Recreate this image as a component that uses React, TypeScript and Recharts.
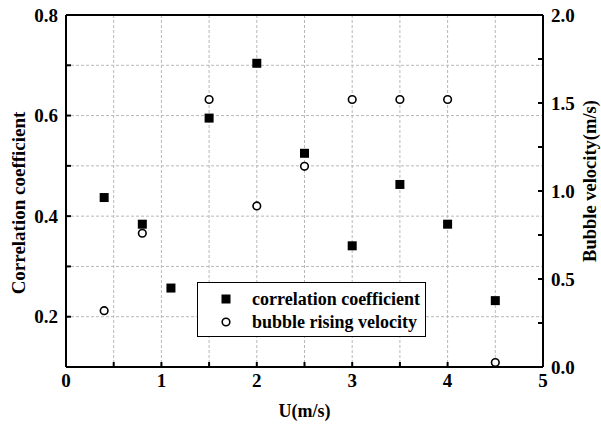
import React from 'react';
import { ScatterChart, Scatter, XAxis, YAxis, CartesianGrid, ReferenceLine, Legend } from 'recharts';

const uSquares = [0.4, 0.8, 1.1, 1.5, 2.0, 2.5, 3.0, 3.5, 4.0, 4.5];
const correlation = [0.437, 0.384, 0.257, 0.595, 0.704, 0.525, 0.341, 0.463, 0.384, 0.232];
const uCircles = [0.4, 0.8, 1.5, 2.0, 2.5, 3.0, 3.5, 4.0, 4.5];
const velocity = [0.32, 0.76, 1.52, 0.915, 1.14, 1.52, 1.52, 1.52, 0.025];

const xTicks = [0, 0.5, 1, 1.5, 2, 2.5, 3, 3.5, 4, 4.5, 5];
const xLabels = [0, 1, 2, 3, 4, 5];
const leftTicks = [0.2, 0.3, 0.4, 0.5, 0.6, 0.7, 0.8];
const leftLabels = [0.2, 0.4, 0.6, 0.8];
const rightTicks = [0, 0.25, 0.5, 0.75, 1, 1.25, 1.5, 1.75, 2];
const rightLabels = [0, 0.5, 1, 1.5, 2];

const seriesNames = ['correlation coefficient', 'bubble rising velocity'];

const corrData = uSquares.map((x, i) => ({ x, y: correlation[i] }));
const velData = uCircles.map((x, i) => ({ x, y: velocity[i] }));

const FONT = 'Liberation Serif, Tinos, DejaVu Serif, Noto Serif, serif';
const tickStyle = { fill: '#000', fontSize: 19, fontWeight: 'bold', fontFamily: FONT };
const axisLine = { stroke: '#000', strokeWidth: 2 };
const tickLine = { stroke: '#000', strokeWidth: 2 };

const SquareShape = (props: any) => (
  <rect x={props.cx - 4.5} y={props.cy - 4.5} width={9} height={9} fill="#000" />
);
const CircleShape = (props: any) => (
  <circle cx={props.cx} cy={props.cy} r={3.8} fill="#fff" stroke="#000" strokeWidth={1.6} />
);

const renderLegend = () => (
  <div
    style={{
      width: 229,
      height: 55,
      boxSizing: 'border-box',
      border: '1px solid #000',
      background: '#fff',
      fontFamily: FONT,
      fontWeight: 'bold',
      fontSize: 18,
      color: '#000',
      position: 'relative',
    }}
  >
    {seriesNames.map((name, i) => (
      <div
        key={name}
        style={{ position: 'absolute', left: 0, top: i === 0 ? 5 : 28, height: 22, display: 'flex', alignItems: 'center' }}
      >
        <svg width={54} height={22} style={{ display: 'block' }}>
          {i === 0 ? (
            <rect x={23.5} y={6.5} width={9} height={9} fill="#000" />
          ) : (
            <circle cx={28} cy={11} r={3.8} fill="#fff" stroke="#000" strokeWidth={1.6} />
          )}
        </svg>
        <span style={{ whiteSpace: 'nowrap', lineHeight: '22px' }}>{name}</span>
      </div>
    ))}
  </div>
);

const titleStyle = { fontFamily: FONT, fontWeight: 'bold', fontSize: 19, fill: '#000' };

const LeftTitle = (props: any) => {
  const vb = props.viewBox;
  const x = vb.x + 18;
  const y = vb.y + vb.height / 2 + 12;
  return (
    <text x={x} y={y} transform={`rotate(-90, ${x}, ${y})`} textAnchor="middle" dominantBaseline="central" style={titleStyle}>
      Correlation coefficient
    </text>
  );
};

const RightTitle = (props: any) => {
  const vb = props.viewBox;
  const x = vb.x + 47;
  const y = vb.y + vb.height / 2 - 10;
  return (
    <text x={x} y={y} transform={`rotate(-90, ${x}, ${y})`} textAnchor="middle" dominantBaseline="central" style={{ ...titleStyle, fontSize: 18.5 }}>
      Bubble velocity(m/s)
    </text>
  );
};

const BottomTitle = (props: any) => {
  const vb = props.viewBox;
  const x = vb.x + vb.width / 2;
  const y = vb.y + 44;
  return (
    <text x={x} y={y} textAnchor="middle" dominantBaseline="central" style={{ ...titleStyle, fontSize: 18 }}>
      U(m/s)
    </text>
  );
};

export default function App() {
  return (
    <div style={{ position: 'absolute', left: 0, top: 0, background: '#fff' }}>
      <ScatterChart width={601} height={432} margin={{ top: 15, right: 0, bottom: 0, left: 0 }}>
        <CartesianGrid yAxisId="left" stroke="#b8b8b8" strokeDasharray="3 2" strokeWidth={1} />
        <XAxis
          type="number"
          dataKey="x"
          domain={[0, 5]}
          ticks={xTicks}
          interval={0}
          height={65}
          axisLine={axisLine}
          tickLine={tickLine}
          tickSize={-5}
          tickMargin={12}
          tick={tickStyle}
          tickFormatter={(v: number) => (xLabels.includes(v) ? String(v) : '')}
          label={<BottomTitle />}
        />
        <YAxis
          yAxisId="left"
          type="number"
          dataKey="y"
          domain={[0.1, 0.8]}
          ticks={leftTicks}
          interval={0}
          width={66}
          axisLine={axisLine}
          tickLine={tickLine}
          tickSize={-5}
          tickMargin={13}
          tick={tickStyle}
          tickFormatter={(v: number) => (leftLabels.includes(v) ? v.toFixed(1) : '')}
          label={<LeftTitle />}
        />
        <YAxis
          yAxisId="right"
          orientation="right"
          type="number"
          dataKey="y"
          domain={[0, 2]}
          ticks={rightTicks}
          interval={0}
          width={58}
          axisLine={axisLine}
          tickLine={tickLine}
          tickSize={-5}
          tickMargin={13}
          tick={tickStyle}
          tickFormatter={(v: number) => (rightLabels.includes(v) ? v.toFixed(1) : '')}
          label={<RightTitle />}
        />
        <ReferenceLine yAxisId="left" y={0.8} stroke="#000" strokeWidth={2} />
        <Scatter name={seriesNames[0]} data={corrData} yAxisId="left" shape={SquareShape} isAnimationActive={false} />
        <Scatter name={seriesNames[1]} data={velData} yAxisId="right" shape={CircleShape} isAnimationActive={false} />
        <Legend
          layout="vertical"
          verticalAlign="middle"
          align="center"
          content={renderLegend}
          wrapperStyle={{ left: 197, top: 282, width: 229, height: 55 }}
        />
      </ScatterChart>
    </div>
  );
}
